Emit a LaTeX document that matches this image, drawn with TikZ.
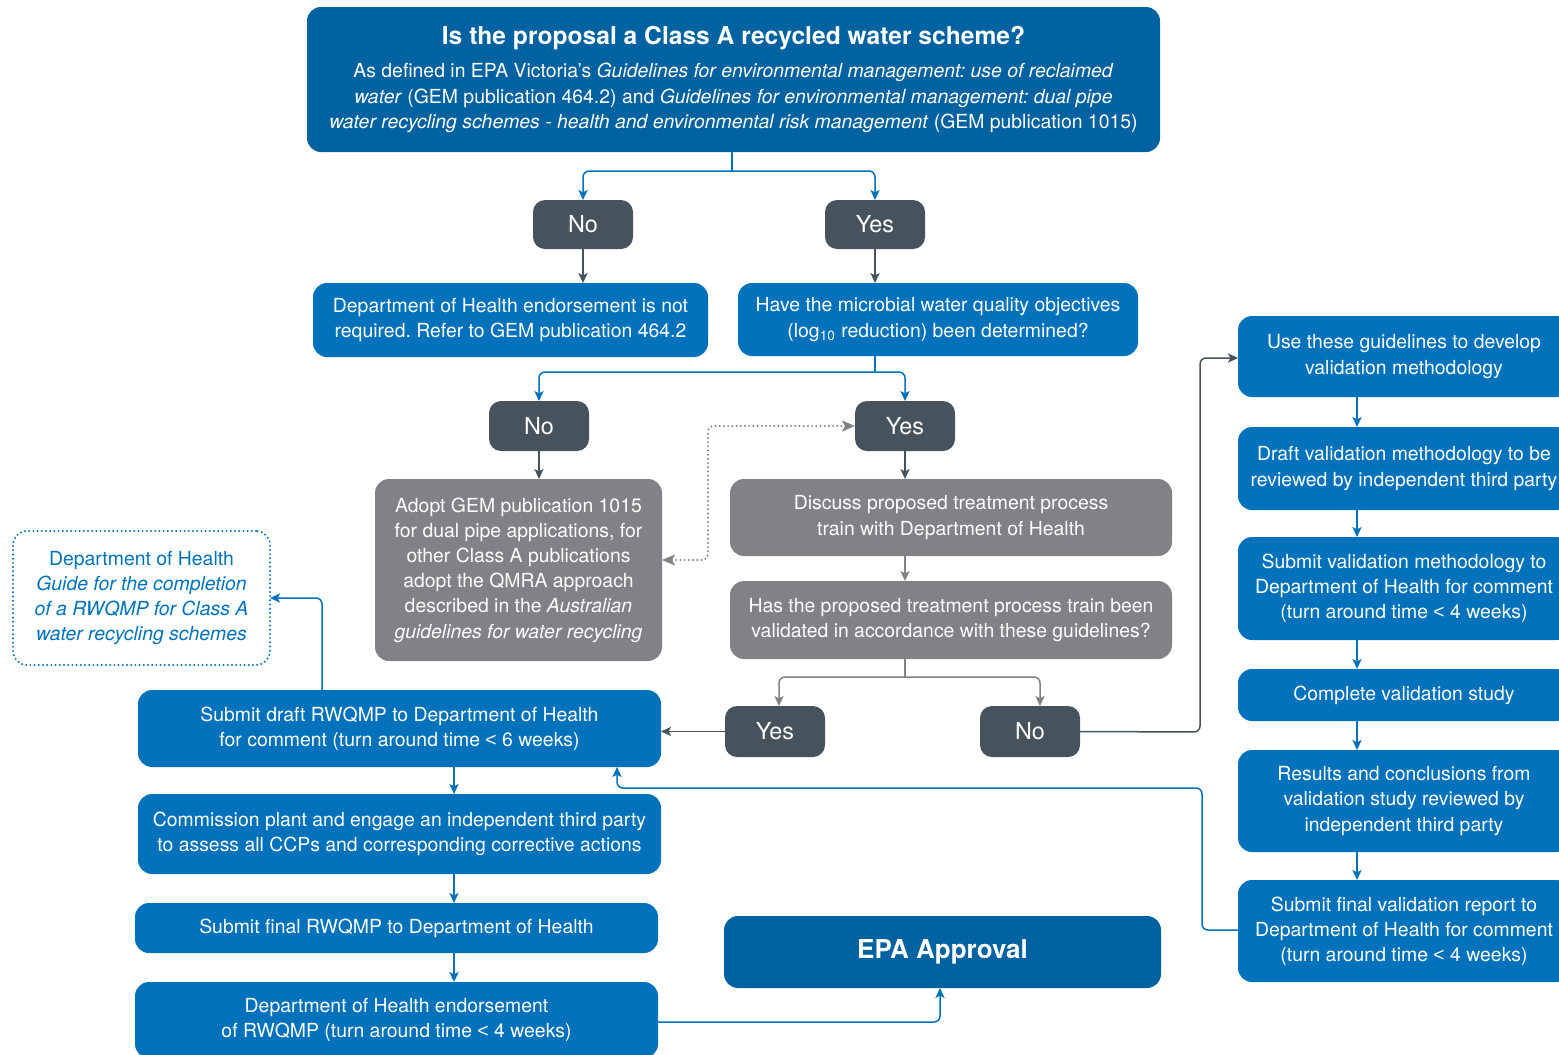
\documentclass[tikz,border=0pt]{standalone}
\usepackage{fontspec}
\setmainfont{TeX Gyre Heros}
\newfontfamily\lsans{Liberation Sans}
\newcommand\lessthan{{\lsans <}}
\usetikzlibrary{arrows.meta}
\definecolor{mblue}{RGB}{0,114,187}
\definecolor{dblue}{RGB}{0,98,160}
\definecolor{slate}{RGB}{70,83,93}
\definecolor{mgray}{RGB}{128,130,133}
\tikzset{
 base/.style={inner sep=0pt, outer sep=0pt, rounded corners=7pt, align=center, text=white, font=\fontsize{9.7}{12.6}\selectfont\frenchspacing},
 bluebox/.style={base, fill=mblue},
 darkbox/.style={base, fill=dblue},
 graybox/.style={base, fill=mgray},
 yn/.style={base, fill=slate, rounded corners=6pt, font=\fontsize{11.7}{13}\selectfont},
 guidebox/.style={base, draw=mblue, text=mblue, line width=1.1pt, dash pattern=on 0pt off 2.1pt, line cap=round},
 conn/.style={line width=0.75pt, rounded corners=3pt},
 tip/.tip={Stealth[length=5pt,width=4.6pt,inset=1.2pt]},
 bigtip/.tip={Stealth[length=6.5pt,width=5.5pt,inset=1.5pt]},
 arr/.style={conn, -tip},
 bl/.style={draw=mblue},
 sl/.style={draw=slate},
 gr/.style={draw=mgray},
 dotconn/.style={draw=mgray, line width=1.1pt, dash pattern=on 0pt off 2.1pt, line cap=round, rounded corners=3pt, bigtip-bigtip},
}
\newcommand\mybox[7]{\node[#6, minimum width={(#4-#2)*0.5pt}, minimum height={(#5-#3)*0.5pt}] (#1) at ({(#2+#4)/2},{(#3+#5)/2}) {#7};}
\begin{document}
\begin{tikzpicture}[x=0.5pt,y=-0.5pt]
\useasboundingbox (0,0) rectangle (1559,1055);
% title
\mybox{title}{307}{7}{1160}{152}{darkbox}{{\fontsize{12.3}{15}\selectfont\bfseries Is the proposal a Class A recycled water scheme?}\\[4pt]
As defined in EPA Victoria's \textit{Guidelines for environmental management: use of reclaimed}\\
\textit{water} (GEM publication 464.2) and \textit{Guidelines for environmental management: dual pipe}\\
\textit{water recycling schemes - health and environmental risk management} (GEM publication 1015)}
\mybox{no1}{533}{200}{633}{249}{yn}{No}
\mybox{yes1}{825}{200}{925}{249}{yn}{Yes}
\mybox{dhnot}{313}{283}{708}{357}{bluebox}{Department of Health endorsement is not\\required. Refer to GEM publication 464.2}
\mybox{micro}{738}{283}{1138}{356}{bluebox}{Have the microbial water quality objectives\\(log\textsubscript{10} reduction) been determined?}
\mybox{no2}{489}{401}{589}{451}{yn}{No}
\mybox{yes2}{855}{401}{955}{451}{yn}{Yes}
\mybox{adopt}{375}{479}{662}{661}{graybox}{Adopt GEM publication 1015\\for dual pipe applications, for\\other Class A publications\\adopt the QMRA approach\\described in the \textit{Australian}\\\textit{guidelines for water recycling}}
\mybox{disc}{730}{479}{1172}{556}{graybox}{Discuss proposed treatment process\\train with Department of Health}
\mybox{hasval}{730}{581}{1172}{659}{graybox}{Has the proposed treatment process train been\\validated in accordance with these guidelines?}
\mybox{yes3}{725}{706}{825}{757}{yn}{Yes}
\mybox{no3}{980}{706}{1080}{757}{yn}{No}
\mybox{guide}{13}{531}{270}{665}{guidebox}{Department of Health\\\textit{Guide for the completion}\\\textit{of a RWQMP for Class A}\\\textit{water recycling schemes}}
\mybox{sdraft}{138}{690}{661}{767}{bluebox}{Submit draft RWQMP to Department of Health\\for comment (turn around time \lessthan{} 6 weeks)}
\mybox{comm}{138}{794}{661}{874}{bluebox}{Commission plant and engage an independent third party\\to assess all CCPs and corresponding corrective actions}
\mybox{sfinal}{135}{903}{658}{953}{bluebox}{Submit final RWQMP to Department of Health}
\mybox{endo}{135}{982}{658}{1058}{bluebox}{Department of Health endorsement\\of RWQMP (turn around time \lessthan{} 4 weeks)}
\mybox{epa}{724}{916}{1161}{988}{darkbox}{{\fontsize{13}{15}\selectfont\bfseries EPA Approval}}
% right column
\mybox{use}{1238}{316}{1570}{397}{bluebox}{Use these guidelines to develop\\validation methodology}
\mybox{draft}{1238}{427}{1570}{510}{bluebox}{Draft validation methodology to be\\reviewed by independent third party}
\mybox{subval}{1238}{537}{1570}{640}{bluebox}{Submit validation methodology to\\Department of Health for comment\\(turn around time \lessthan{} 4 weeks)}
\mybox{compl}{1238}{669}{1570}{721}{bluebox}{Complete validation study}
\mybox{results}{1238}{750}{1570}{852}{bluebox}{Results and conclusions from\\validation study reviewed by\\independent third party}
\mybox{sfv}{1238}{880}{1570}{982}{bluebox}{Submit final validation report to\\Department of Health for comment\\(turn around time \lessthan{} 4 weeks)}
% connectors
\coordinate (j1) at (732,171);
\draw[conn,bl] (title.south -| j1) -- (j1);
\draw[arr,bl] (j1) -| (no1);
\draw[arr,bl] (j1) -| (yes1);
\draw[arr,sl] (no1.south) -- (dhnot.north -| no1.south);
\draw[arr,sl] (yes1.south) -- (micro.north -| yes1.south);
\coordinate (j2) at (875,372);
\draw[conn,bl] (micro.south -| j2) -- (j2);
\draw[arr,bl] (j2) -| (no2);
\draw[arr,bl] (j2) -| (yes2);
\draw[arr,sl] (no2.south) -- (adopt.north -| no2.south);
\draw[arr,sl] (yes2.south) -- (disc.north -| yes2.south);
\draw[arr,gr] (disc.south -| yes2.south) -- (hasval.north -| yes2.south);
\coordinate (j3) at (905,677);
\draw[conn,gr] (hasval.south -| j3) -- (j3);
\draw[arr,gr] (j3) -| (yes3.north -| 779,0);
\draw[arr,gr] (j3) -| (no3.north -| 1040,0);
\draw[arr,sl] (yes3.west) -- (sdraft.east |- yes3.west);
\coordinate (k1) at (1200,732);
\coordinate (k2) at (1200,358);
\draw[arr,sl] (no3.east) -- (k1) -- (k2) -- (use.west |- k2);
\coordinate (d1) at (708,426);
\coordinate (d2) at (708,560);
\draw[dotconn] (yes2.west) -- (d1) -- (d2) -- (adopt.east |- d2);
\draw[arr,bl] (sdraft.north -| 322,0) |- (guide.east);
\draw[arr,bl] (sdraft.south -| 454,0) -- (comm.north -| 454,0);
\draw[arr,bl] (comm.south -| 454,0) -- (sfinal.north -| 454,0);
\draw[arr,bl] (sfinal.south -| 454,0) -- (endo.north -| 454,0);
\draw[arr,bl] (endo.east |- 0,1022) -| (epa.south -| 940,0);
\draw[arr,bl] (use.south -| 1357,0) -- (draft.north -| 1357,0);
\draw[arr,bl] (draft.south -| 1357,0) -- (subval.north -| 1357,0);
\draw[arr,bl] (subval.south -| 1357,0) -- (compl.north -| 1357,0);
\draw[arr,bl] (compl.south -| 1357,0) -- (results.north -| 1357,0);
\draw[arr,bl] (results.south -| 1357,0) -- (sfv.north -| 1357,0);
\coordinate (r1) at (1202,930);
\coordinate (r2) at (1202,788);
\coordinate (r3) at (617,788);
\draw[arr,bl] (sfv.west |- r1) -- (r1) -- (r2) -- (r3) -- (sdraft.south -| r3);
\end{tikzpicture}
\end{document}
